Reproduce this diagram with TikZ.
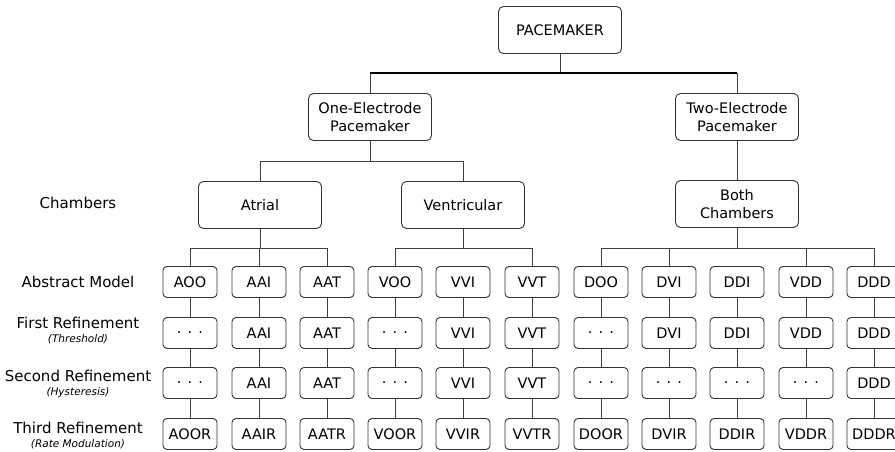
\documentclass[tikz,border=0pt]{standalone}
\usepackage{fontspec}
\setmainfont{DejaVu Sans}
\begin{document}
\begin{tikzpicture}[x=1pt,y=-1pt,
  conn/.style={draw=black!75, line width=0.9pt},
  bus/.style={draw=black, line width=1.8pt},
  bigbox/.style={draw=black!80, line width=0.9pt, rounded corners=5pt, minimum width=123pt, minimum height=47pt, inner sep=0pt, align=center, font=\fontsize{14.5}{18}\selectfont},
  smallbox/.style={draw=black!80, line width=0.9pt, rounded corners=4pt, minimum width=54pt, minimum height=31pt, inner sep=0pt, font=\fontsize{14.5}{16}\selectfont},
  rowlabel/.style={align=center, font=\fontsize{15}{17}\selectfont},
  sublabel/.style={font=\fontsize{10.5}{12}\selectfont\itshape}]
\useasboundingbox (0,0) rectangle (895,452);
\clip (0,0) rectangle (895,452);
\fill[white] (0,0) rectangle (895,452);

% big nodes
\node[bigbox] (pm) at (560,30) {PACEMAKER};
\node[bigbox] (one) at (370,117) {One-Electrode\\Pacemaker};
\node[bigbox] (two) at (737,117) {Two-Electrode\\Pacemaker};
\node[bigbox] (atr) at (260,205) {Atrial};
\node[bigbox] (ven) at (463,205) {Ventricular};
\node[bigbox] (both) at (737,204) {Both\\Chambers};

% row labels
\node[rowlabel] (lch) at (78,203) {Chambers};
\node[rowlabel] (lab) at (78,282) {Abstract Model};
\node[rowlabel] (lf) at (78,323) {First Refinement};
\node[sublabel] (lfs) at (78,339) {(Threshold)};
\node[rowlabel] (ls) at (78,376) {Second Refinement};
\node[sublabel] (lss) at (78,393) {(Hysteresis)};
\node[rowlabel] (lt) at (78,428) {Third Refinement};
\node[sublabel] (lts) at (78,444) {(Rate Modulation)};

% small boxes
\foreach \c/\x/\a/\b/\d/\e in {
  1/190/AOO/. . ./. . ./AOOR,
  2/259/AAI/AAI/AAI/AAIR,
  3/327/AAT/AAT/AAT/AATR,
  4/395/VOO/. . ./. . ./VOOR,
  5/463/VVI/VVI/VVI/VVIR,
  6/532/VVT/VVT/VVT/VVTR,
  7/601/DOO/. . ./. . ./DOOR,
  8/669/DVI/DVI/. . ./DVIR,
  9/737/DDI/DDI/. . ./DDIR,
  10/806/VDD/VDD/. . ./VDDR,
  11/874/DDD/DDD/DDD/DDDR}{
  \node[smallbox] (m\c-1) at (\x,282) {\a};
  \node[smallbox] (m\c-2) at (\x,333) {\b};
  \node[smallbox] (m\c-3) at (\x,383) {\d};
  \node[smallbox] (m\c-4) at (\x,434) {\e};
  \draw[conn] (m\c-1) -- (m\c-2);
  \draw[conn] (m\c-2) -- (m\c-3);
  \draw[conn] (m\c-3) -- (m\c-4);
}

% tree connectors
\coordinate (b0) at (0,73);
\draw[conn] (pm.south) -- (pm.south |- b0);
\draw[bus] (one.north |- b0) -- (two.north |- b0);
\draw[conn] (one.north |- b0) -- (one.north);
\draw[conn] (two.north |- b0) -- (two.north);

\coordinate (b1) at (0,161);
\draw[conn] (one.south) -- (one.south |- b1);
\draw[conn] (atr.north) |- (ven.north |- b1) -- (ven.north);
\draw[conn] (two.south) -- (both.north);

\coordinate (b2) at (0,248);
\draw[conn] (atr.south) -- (atr.south |- b2);
\draw[conn] (m1-1.north) |- (m3-1.north |- b2) -- (m3-1.north);
\draw[conn] (m2-1.north) -- (m2-1.north |- b2);
\draw[conn] (ven.south) -- (ven.south |- b2);
\draw[conn] (m4-1.north) |- (m6-1.north |- b2) -- (m6-1.north);
\draw[conn] (both.south) -- (both.south |- b2);
\draw[conn] (m7-1.north) |- (m11-1.north |- b2) -- (m11-1.north);
\draw[conn] (m8-1.north) -- (m8-1.north |- b2);
\draw[conn] (m10-1.north) -- (m10-1.north |- b2);
\end{tikzpicture}
\end{document}
